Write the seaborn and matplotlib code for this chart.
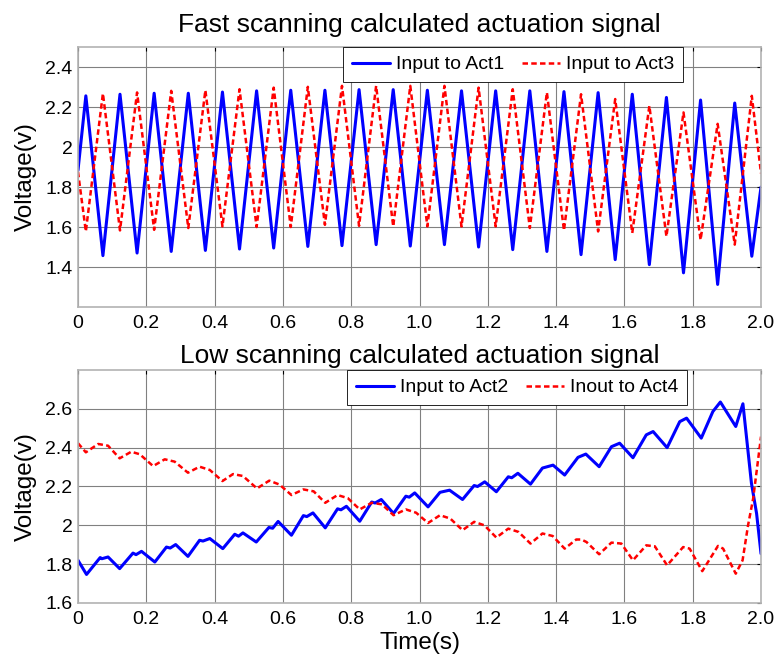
import pandas as pd
import matplotlib
matplotlib.use('Agg')
import matplotlib.pyplot as plt
import seaborn as sns

# Fast scanning: vertices of the triangle-like signals (time in s, voltage in V)
fast_t = [0, 0.023, 0.073, 0.123, 0.173, 0.223, 0.273, 0.323, 0.373, 0.423, 0.473,
          0.523, 0.573, 0.623, 0.673, 0.723, 0.773, 0.823, 0.873, 0.923, 0.973,
          1.023, 1.073, 1.123, 1.173, 1.223, 1.273, 1.323, 1.373, 1.423, 1.473,
          1.523, 1.573, 1.623, 1.673, 1.723, 1.773, 1.823, 1.873, 1.923, 1.973, 2.0]
act1 = [1.884, 2.256, 1.457, 2.264, 1.470, 2.269, 1.478, 2.269, 1.483, 2.275, 1.490,
        2.281, 1.495, 2.284, 1.503, 2.284, 1.507, 2.287, 1.512, 2.287, 1.505,
        2.284, 1.512, 2.281, 1.500, 2.281, 1.487, 2.281, 1.478, 2.277, 1.462,
        2.272, 1.437, 2.264, 1.412, 2.248, 1.371, 2.235, 1.313, 2.220, 1.454, 1.800]
act3 = [1.876, 1.578, 2.268, 1.583, 2.273, 1.586, 2.281, 1.595, 2.284, 1.603, 2.289,
        1.600, 2.297, 1.600, 2.301, 1.611, 2.306, 1.606, 2.306, 1.603, 2.306,
        1.603, 2.306, 1.603, 2.297, 1.603, 2.289, 1.595, 2.273, 1.583, 2.264,
        1.578, 2.240, 1.570, 2.206, 1.553, 2.173, 1.536, 2.116, 1.512, 2.256, 1.868]

# Low scanning: Act2 (rising with ripples)
act2_t = [0, 0.025, 0.065, 0.07, 0.088, 0.122, 0.161, 0.17, 0.186, 0.225, 0.259, 0.27,
          0.286, 0.322, 0.356, 0.366, 0.386, 0.424, 0.459, 0.47, 0.483, 0.522, 0.559,
          0.57, 0.586, 0.625, 0.66, 0.67, 0.688, 0.724, 0.76, 0.77, 0.786, 0.825, 0.86,
          0.87, 0.888, 0.924, 0.96, 0.97, 0.986, 1.025, 1.06, 1.088, 1.126, 1.16, 1.17,
          1.191, 1.225, 1.26, 1.27, 1.288, 1.325, 1.36, 1.391, 1.425, 1.464, 1.487,
          1.526, 1.562, 1.586, 1.625, 1.664, 1.684, 1.725, 1.762, 1.782, 1.825, 1.859,
          1.881, 1.926, 1.947, 1.972, 1.987, 2.0]
act2 = [1.820, 1.747, 1.834, 1.828, 1.837, 1.777, 1.857, 1.849, 1.866, 1.811, 1.888, 1.883,
        1.901, 1.840, 1.923, 1.919, 1.932, 1.880, 1.954, 1.944, 1.961, 1.914, 1.989,
        1.985, 2.020, 1.949, 2.050, 2.045, 2.064, 1.987, 2.085, 2.080, 2.098, 2.021, 2.120,
        2.115, 2.133, 2.061, 2.150, 2.145, 2.167, 2.095, 2.170, 2.181, 2.133, 2.205, 2.200,
        2.224, 2.173, 2.250, 2.245, 2.268, 2.212, 2.295, 2.310, 2.259, 2.350, 2.367,
        2.302, 2.405, 2.423, 2.348, 2.466, 2.483, 2.400, 2.534, 2.552, 2.449, 2.586,
        2.635, 2.509, 2.626, 2.216, 2.061, 1.854]

# Low scanning: Act4 (falling with ripples)
act4_t = [0, 0.023, 0.059, 0.088, 0.122, 0.156, 0.181, 0.22, 0.254, 0.283, 0.322, 0.356,
          0.386, 0.423, 0.454, 0.483, 0.524, 0.56, 0.59, 0.625, 0.66, 0.69, 0.724, 0.76,
          0.79, 0.825, 0.86, 0.89, 0.924, 0.96, 0.99, 1.025, 1.06, 1.09, 1.126, 1.16,
          1.19, 1.225, 1.26, 1.29, 1.325, 1.36, 1.39, 1.425, 1.459, 1.474, 1.489, 1.526,
          1.562, 1.591, 1.625, 1.664, 1.689, 1.725, 1.772, 1.791, 1.828, 1.874, 1.889,
          1.926, 1.946, 1.962, 1.977, 2.0]
act4 = [2.423, 2.376, 2.419, 2.410, 2.345, 2.379, 2.366, 2.305, 2.340, 2.328, 2.271, 2.302,
        2.285, 2.228, 2.264, 2.254, 2.190, 2.230, 2.210, 2.156, 2.185, 2.175, 2.116, 2.156,
        2.140, 2.082, 2.116, 2.108, 2.052, 2.082, 2.065, 2.012, 2.052, 2.035, 1.975, 2.018,
        2.000, 1.937, 1.983, 1.966, 1.906, 1.958, 1.945, 1.880, 1.927, 1.927, 1.914, 1.851,
        1.911, 1.906, 1.820, 1.897, 1.892, 1.794, 1.888, 1.880, 1.764, 1.894, 1.880,
        1.751, 1.820, 2.000, 2.138, 2.457]

x_ticks = [0, 0.2, 0.4, 0.6, 0.8, 1.0, 1.2, 1.4, 1.6, 1.8, 2.0]
x_labels = ['0', '0.2', '0.4', '0.6', '0.8', '1.0', '1.2', '1.4', '1.6', '1.8', '2.0']
fast_yticks = [1.4, 1.6, 1.8, 2.0, 2.2, 2.4]
fast_ylabels = ['1.4', '1.6', '1.8', '2', '2.2', '2.4']
low_yticks = [1.6, 1.8, 2.0, 2.2, 2.4, 2.6]
low_ylabels = ['1.6', '1.8', '2', '2.2', '2.4', '2.6']

sns.set_style('white')
plt.rcParams['font.family'] = ['Liberation Sans', 'DejaVu Sans']
plt.rcParams['text.color'] = 'k'
plt.rcParams['axes.labelcolor'] = 'k'
plt.rcParams['xtick.color'] = 'k'
plt.rcParams['ytick.color'] = 'k'

fig = plt.figure(figsize=(7.76, 6.58), dpi=100)
ax1 = fig.add_axes([0.1005, 0.5334, 0.8802, 0.3951])
ax2 = fig.add_axes([0.1005, 0.0836, 0.8802, 0.3541])

fast = pd.DataFrame({'t': fast_t, 'act1': act1, 'act3': act3})
sns.lineplot(data=fast, x='t', y='act1', ax=ax1, color='#0000ff', lw=2.2,
             sort=False, estimator=None, label='Input to Act1')
sns.lineplot(data=fast, x='t', y='act3', ax=ax1, color='#ff0000', lw=1.8,
             sort=False, estimator=None, label='Input to Act3')
ax1.lines[1].set_dashes((2.2, 1.3))

low2 = pd.DataFrame({'t': act2_t, 'v': act2})
low4 = pd.DataFrame({'t': act4_t, 'v': act4})
sns.lineplot(data=low2, x='t', y='v', ax=ax2, color='#0000ff', lw=2.2,
             sort=False, estimator=None, label='Input to Act2')
sns.lineplot(data=low4, x='t', y='v', ax=ax2, color='#ff0000', lw=1.8,
             sort=False, estimator=None, label='Inout to Act4')
ax2.lines[1].set_dashes((2.2, 1.3))

setups = [
    (ax1, (1.2, 2.5), fast_yticks, fast_ylabels, 'Fast scanning calculated actuation signal', 11, 0.886),
    (ax2, (1.6, 2.8), low_yticks, low_ylabels, 'Low scanning calculated actuation signal', 5, 0.892),
]
for ax, ylim, yt, yl, title, tpad, lx in setups:
    ax.set_xlim(0, 2.0)
    ax.set_ylim(*ylim)
    ax.set_xticks(x_ticks)
    ax.set_xticklabels(x_labels)
    ax.set_yticks(yt)
    ax.set_yticklabels(yl)
    ax.grid(True, color='0.5', lw=0.8)
    for s in ax.spines.values():
        s.set_color('0.7')
        s.set_linewidth(1.2)
    ax.tick_params(direction='in', length=3, width=0.8, color='k', labelcolor='k',
                   top=True, right=True, labelsize=14)
    ax.tick_params(axis='x', pad=6)
    ax.tick_params(axis='y', pad=4)
    ax.set_title(title, fontsize=19, pad=tpad, color='k')
    ax.set_ylabel('Voltage(v)', fontsize=17.5, labelpad=6)
    ax.set_xlabel('')
    ax.legend(loc='upper right', bbox_to_anchor=(lx, 1.0), ncol=2, fontsize=14,
              frameon=True, fancybox=False, edgecolor='k', framealpha=1,
              borderaxespad=0, borderpad=0.45, handlelength=1.95,
              handletextpad=0.3, columnspacing=0.95)
    ax.get_legend().get_frame().set_linewidth(0.6)

ax2.set_xlabel('Time(s)', fontsize=17.5, labelpad=3)

fig.savefig('out.png', dpi=100)
